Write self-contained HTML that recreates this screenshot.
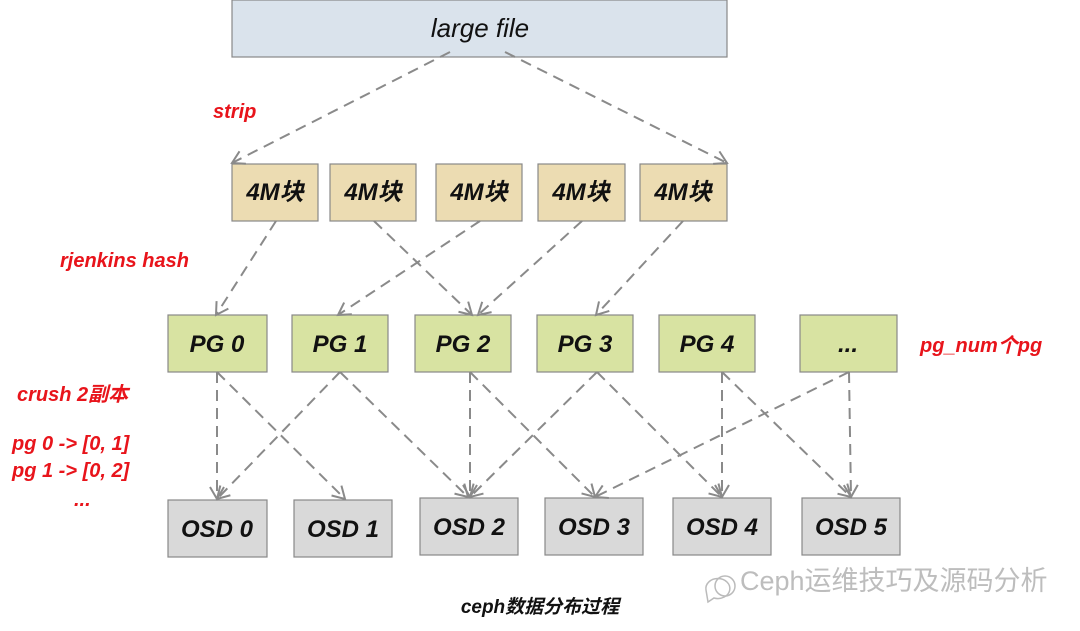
<!DOCTYPE html>
<html><head><meta charset="utf-8"><style>
html,body{margin:0;padding:0;background:#fff;width:1080px;height:631px;overflow:hidden}
svg{display:block}
text{font-family:"Liberation Sans","Noto Sans CJK SC",sans-serif;font-style:italic}
.n{font-size:24px;font-weight:bold;fill:#111;text-anchor:middle}
.r{font-size:20px;font-weight:bold;fill:#e8141b}
.l{stroke:#8a8a8a;stroke-width:2;stroke-dasharray:11,7;fill:none;marker-end:url(#a)}
</style></head><body>
<svg width="1080" height="631" viewBox="0 0 1080 631">
<defs><marker id="a" markerWidth="16" markerHeight="16" refX="13" refY="8" orient="auto" markerUnits="userSpaceOnUse"><path d="M1,1 L13,8 L1,15" fill="none" stroke="#8a8a8a" stroke-width="2"/></marker></defs>
<rect x="232" y="0" width="495" height="57" fill="#dae3ec" stroke="#888" stroke-width="1.2"/>
<text x="480" y="37" class="n" style="font-weight:normal;font-size:26px">large file</text>
<g fill="#ecdcb2" stroke="#888" stroke-width="1.2">
<rect x="232" y="164" width="86" height="57"/><rect x="330" y="164" width="86" height="57"/><rect x="436" y="164" width="86" height="57"/><rect x="538" y="164" width="87" height="57"/><rect x="640" y="164" width="87" height="57"/></g>
<g class="n" style="font-size:22px"><text x="275" y="200" class="n">4M块</text><text x="373" y="200" class="n">4M块</text><text x="479" y="200" class="n">4M块</text><text x="581" y="200" class="n">4M块</text><text x="683" y="200" class="n">4M块</text></g>
<g fill="#d8e3a2" stroke="#888" stroke-width="1.2">
<rect x="168" y="315" width="99" height="57"/><rect x="292" y="315" width="96" height="57"/><rect x="415" y="315" width="96" height="57"/><rect x="537" y="315" width="96" height="57"/><rect x="659" y="315" width="96" height="57"/><rect x="800" y="315" width="97" height="57"/></g>
<text x="217" y="352" class="n">PG 0</text><text x="340" y="352" class="n">PG 1</text><text x="463" y="352" class="n">PG 2</text><text x="585" y="352" class="n">PG 3</text><text x="707" y="352" class="n">PG 4</text><text x="848" y="352" class="n">...</text>
<g fill="#d9d9d9" stroke="#888" stroke-width="1.2">
<rect x="168" y="500" width="99" height="57"/><rect x="294" y="500" width="98" height="57"/><rect x="420" y="498" width="98" height="57"/><rect x="545" y="498" width="98" height="57"/><rect x="673" y="498" width="98" height="57"/><rect x="802" y="498" width="98" height="57"/></g>
<text x="217" y="537" class="n">OSD 0</text><text x="343" y="537" class="n">OSD 1</text><text x="469" y="535" class="n">OSD 2</text><text x="594" y="535" class="n">OSD 3</text><text x="722" y="535" class="n">OSD 4</text><text x="851" y="535" class="n">OSD 5</text>
<path class="l" d="M450,52 L232,163"/><path class="l" d="M505,52 L727,163"/>
<path class="l" d="M276,221 L216,315"/><path class="l" d="M374,221 L472,315"/><path class="l" d="M480,221 L338,315"/><path class="l" d="M582,221 L478,315"/><path class="l" d="M683,221 L596,315"/>
<path class="l" d="M217,372 L217,499"/><path class="l" d="M217,372 L345,499"/>
<path class="l" d="M340,372 L217,499"/><path class="l" d="M340,372 L468,497"/>
<path class="l" d="M470,372 L470,497"/><path class="l" d="M470,372 L595,497"/>
<path class="l" d="M597,372 L470,497"/><path class="l" d="M597,372 L722,497"/>
<path class="l" d="M722,372 L722,497"/><path class="l" d="M722,372 L851,497"/>
<path class="l" d="M849,372 L595,497"/><path class="l" d="M849,372 L851,497"/>
<text x="213" y="118" class="r">strip</text>
<text x="60" y="267" class="r">rjenkins hash</text>
<text x="17" y="401" class="r">crush 2副本</text>
<text x="12" y="450" class="r">pg 0 -&gt; [0, 1]</text>
<text x="12" y="477" class="r">pg 1 -&gt; [0, 2]</text>
<text x="74" y="506" class="r">...</text>
<text x="920" y="352" class="r">pg_num个pg</text>
<text x="540" y="613" class="n" style="font-size:19px">ceph数据分布过程</text>
<g stroke="#bbb" fill="none" stroke-width="1.5"><path d="M706,590 a12,10 0 1 1 8,8 l-6,4 z"/><circle cx="725" cy="586" r="10"/></g>
<text x="740" y="590" style="font-style:normal;font-size:27px;fill:#bdbdbd">Ceph运维技巧及源码分析</text>
</svg>
</body></html>
